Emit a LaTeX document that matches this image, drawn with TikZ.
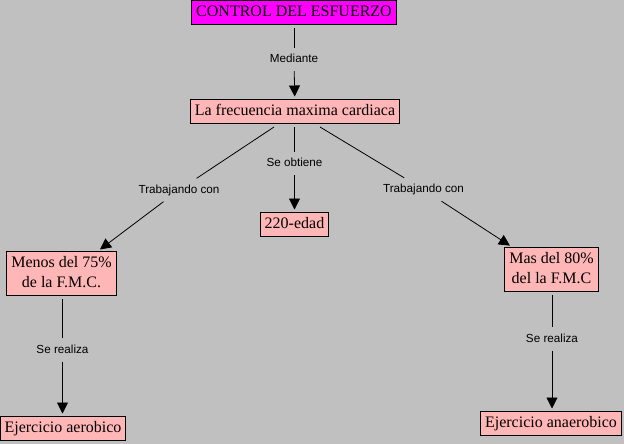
\documentclass[tikz,border=0pt]{standalone}
\usepackage{fontspec}
\setmainfont{Liberation Serif}
\newfontfamily\lblfont{Liberation Sans}
\usetikzlibrary{arrows.meta}
\definecolor{bg}{HTML}{C0C0C0}
\definecolor{pinkbox}{HTML}{FFB6B6}
\definecolor{magbox}{HTML}{FF00FF}
\tikzset{
  box/.style={draw=black, line width=1pt, fill=pinkbox, font=\fontsize{16}{20}\selectfont,
    inner xsep=4.3pt, inner ysep=4.5pt, text height=11.5pt, text depth=3.5pt, align=center},
  twobox/.style={box, text height=31.5pt},
  topbox/.style={box, fill=magbox},
  lbl/.style={font=\lblfont\fontsize{11.7}{14}\selectfont, inner xsep=1.5pt, inner ysep=0pt,
    text height=8.5pt, text depth=2.5pt, minimum height=23pt, fill=none},
  conn/.style={draw=black, line width=0.8pt},
  arr/.style={conn, -{Triangle[width=11pt,length=11pt]}, shorten >=2.5pt},
}
\begin{document}
\begin{tikzpicture}[x=1pt,y=-1pt]
\fill[bg] (0,0) rectangle (624,444);
\useasboundingbox (0,0) rectangle (624,444);

\node[topbox] (top) at (294,13) {CONTROL DEL ESFUERZO};
\node[box] (freq) at (295,111.5) {La frecuencia maxima cardiaca};
\node[box] (edad) at (294.5,224.5) {220-edad};
\node[twobox] (menos) at (61.5,273.5) {Menos del 75\%\\de la F.M.C.};
\node[twobox] (mas) at (551.5,269.5) {Mas del 80\%\\del la F.M.C};
\node[box] (aer) at (63,428.5) {Ejercicio aerobico};
\node[box] (anaer) at (551,423.5) {Ejercicio anaerobico};

\node[lbl] (l1) at (294,59.5) {Mediante};
\node[lbl] (l2) at (294.5,163.5) {Se obtiene};
\node[lbl] (l3) at (179,190) {Trabajando con};
\node[lbl] (l4) at (423.5,189.5) {Trabajando con};
\node[lbl] (l5) at (62.5,350) {Se realiza};
\node[lbl] (l6) at (552,339) {Se realiza};

\coordinate (f1) at ([xshift=-21pt,yshift=-3pt]freq.south);
\coordinate (f3) at ([xshift=25pt,yshift=-3pt]freq.south);
\coordinate (t3) at ([xshift=36.5pt]menos.north);
\coordinate (t4) at ([xshift=-39.5pt]mas.north);

\draw[conn, shorten <=3pt] (top) -- (l1);
\draw[arr] (l1) -- (freq);
\draw[conn, shorten <=3pt] (freq.south -| l2) -- (l2);
\draw[arr] (l2) -- (edad);
\draw[conn] (f1) -- (l3);
\draw[arr] (l3) -- (t3);
\draw[conn] (f3) -- (l4);
\draw[arr] (l4) -- (t4);
\draw[conn, shorten <=3pt] (menos.south -| l5) -- (l5);
\draw[arr] (l5) -- (l5 |- aer.north);
\draw[conn, shorten <=3pt] (mas.south -| l6) -- (l6);
\draw[arr] (l6) -- (l6 |- anaer.north);
\end{tikzpicture}
\end{document}
